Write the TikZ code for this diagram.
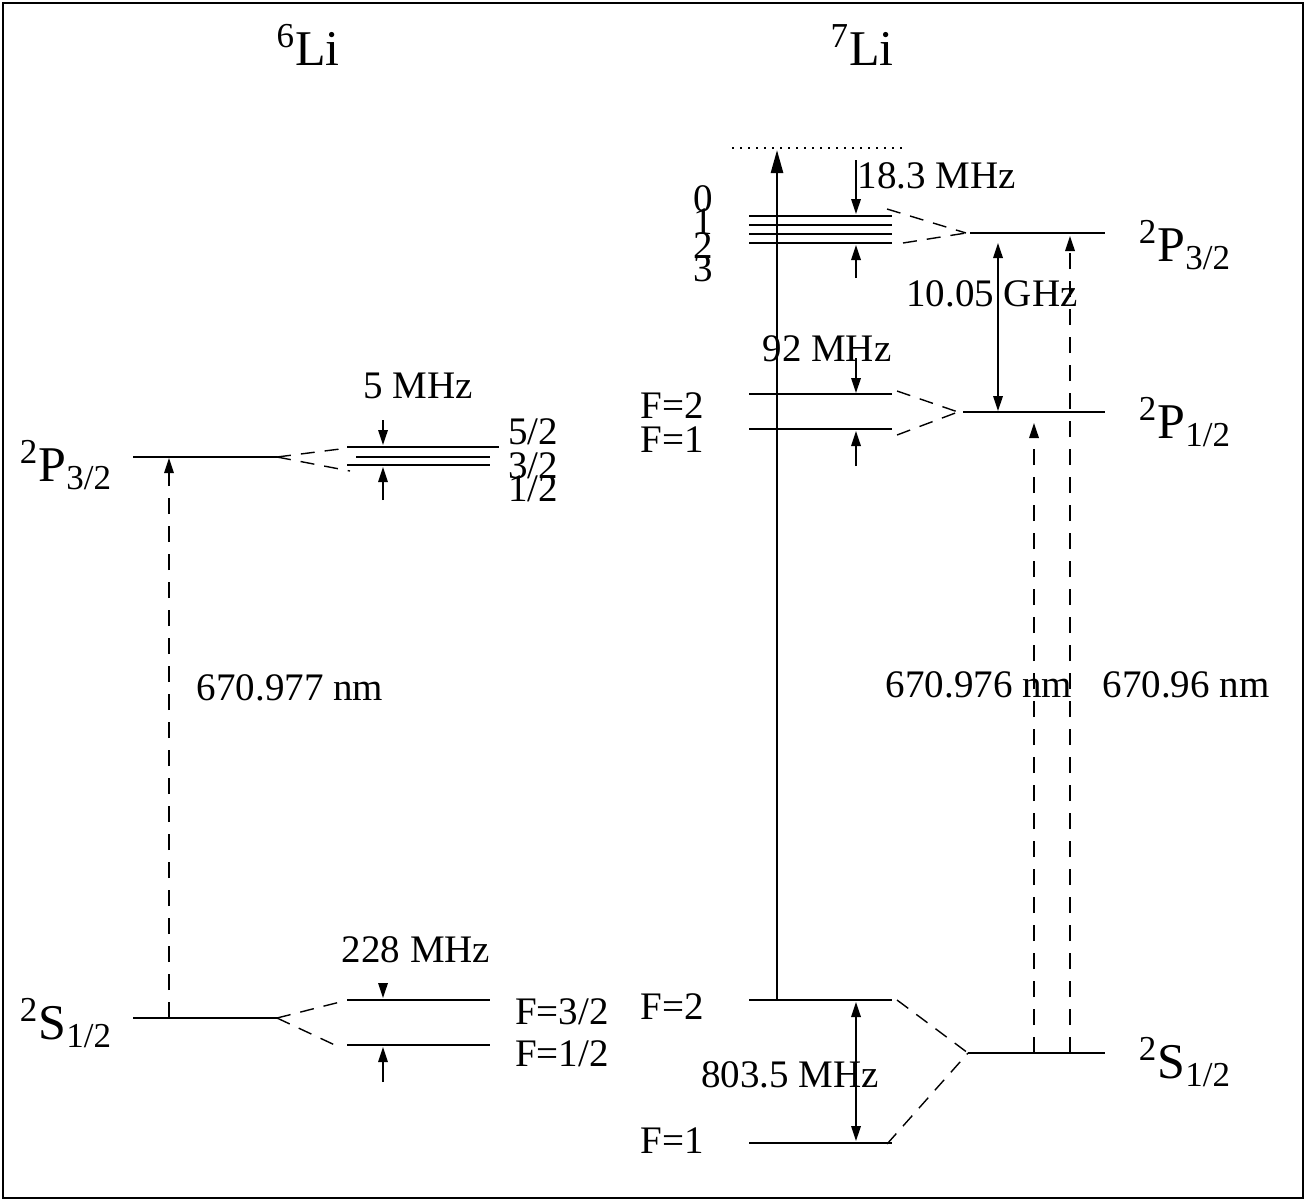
\documentclass[tikz,border=0pt]{standalone}
\usepackage{fontspec}
\setmainfont{Liberation Serif}
\usetikzlibrary{arrows.meta}

\begin{document}
\begin{tikzpicture}[
    x=0.5pt, y=-0.5pt,
    lvl/.style={line width=0.8pt},
    fan/.style={line width=0.7pt, dash pattern=on 7pt off 5pt},
    trans/.style={line width=0.7pt, dash pattern=on 8pt off 6pt, -{Triangle[length=7.5pt,width=4.8pt]}},
    gap/.style={line width=0.7pt, -{Triangle[length=7.5pt,width=4.8pt]}},
    both/.style={line width=0.7pt, {Triangle[length=7.5pt,width=4.8pt]}-{Triangle[length=7.5pt,width=4.8pt]}},
    lab/.style={inner sep=0pt, font=\fontsize{19.5}{22}\selectfont},
    big/.style={inner sep=0pt, font=\fontsize{25}{28}\selectfont}
]
    % frame
    \useasboundingbox (0,0) rectangle (1306,1201);
    \draw[line width=0.8pt] (3,3) rectangle (1303,1198);

    % titles
    \node[big] (title6) at (308,45) {\textsuperscript{6}Li};
    \node[big] (title7) at (862,45) {\textsuperscript{7}Li};

    % ---- 6Li fine structure
    \coordinate (p6l) at (133,457);  \coordinate (p6r) at (277,457);
    \coordinate (s6l) at (133,1018); \coordinate (s6r) at (277,1018);
    \draw[lvl] (p6l) -- (p6r);
    \draw[lvl] (s6l) -- (s6r);
    \node[big] (p6lab) at (66,465) {\textsuperscript{2}P\textsubscript{3/2}};
    \node[big] (s6lab) at (66,1023) {\textsuperscript{2}S\textsubscript{1/2}};
    \coordinate (d6s) at (169,1018); \coordinate (d6p) at (169,458);
    \draw[trans] (d6s) -- (d6p);
    \node[lab] (lam6) at (290,688) {670.977 nm};

    % 6Li P3/2 hyperfine
    \coordinate (h52l) at (347,447); \coordinate (h52r) at (499,447);
    \coordinate (h32l) at (356,457); \coordinate (h32r) at (490,457);
    \coordinate (h12l) at (347,465); \coordinate (h12r) at (490,465);
    \draw[lvl] (h52l) -- (h52r);
    \draw[lvl] (h32l) -- (h32r);
    \draw[lvl] (h12l) -- (h12r);
    \coordinate (f6a) at (340,449); \coordinate (f6b) at (350,471);
    \draw[fan] (p6r) -- (f6a);
    \draw[fan] (p6r) -- (f6b);
    \node[lab] (l52) at (533,432) {5/2};
    \node[lab] (l32) at (533,466) {3/2};
    \node[lab] (l12) at (533,489) {1/2};
    \node[lab] (mhz5) at (418,386) {5 MHz};
    \coordinate (a5t) at (383,420); \coordinate (a5u) at (383,445);
    \coordinate (a5b) at (383,500); \coordinate (a5d) at (383,467);
    \draw[gap] (a5t) -- (a5u);
    \draw[gap] (a5b) -- (a5d);

    % 6Li S1/2 hyperfine
    \coordinate (g32l) at (347,1000); \coordinate (g32r) at (490,1000);
    \coordinate (g12l) at (347,1045); \coordinate (g12r) at (490,1045);
    \draw[lvl] (g32l) -- (g32r);
    \draw[lvl] (g12l) -- (g12r);
    \coordinate (f6c) at (340,1002); \coordinate (f6d) at (337,1046);
    \draw[fan] (s6r) -- (f6c);
    \draw[fan] (s6r) -- (f6d);
    \node[lab] (lf32) at (562,1012) {F=3/2};
    \node[lab] (lf12) at (562,1054) {F=1/2};
    \node[lab] (mhz228) at (416,950) {228 MHz};
    \coordinate (a228t) at (383,983); \coordinate (a228u) at (383,998);
    \coordinate (a228b) at (383,1082); \coordinate (a228d) at (383,1047);
    \draw[gap] (a228t) -- (a228u);
    \draw[gap] (a228b) -- (a228d);

    % ---- 7Li
    \coordinate (dotl) at (732,148); \coordinate (dotr) at (907,148);
    \draw[line width=0.7pt, dash pattern=on 0.8pt off 3.2pt] (dotl) -- (dotr);
    \coordinate (ion0) at (777,1000); \coordinate (ion1) at (777,150);
    \draw[line width=1.3pt, -{Triangle[length=11.5pt,width=6pt]}] (ion0) -- (ion1);

    % P3/2 hyperfine (F=0..3)
    \foreach \yy in {216, 225, 234, 243} {
        \draw[lvl] (749,\yy) -- (892,\yy);
    }
    \node[lab] (lf0) at (703,199) {0};
    \node[lab] (lf1) at (703,222) {1};
    \node[lab] (lf2) at (703,246) {2};
    \node[lab] (lf3) at (703,269) {3};
    \node[lab] (mhz18) at (937,176) {18.3 MHz};
    \coordinate (a18t) at (856,160); \coordinate (a18u) at (856,214);
    \coordinate (a18b) at (856,278); \coordinate (a18d) at (856,245);
    \draw[gap] (a18t) -- (a18u);
    \draw[gap] (a18b) -- (a18d);
    \coordinate (j3) at (966,233);
    \coordinate (f7a) at (887,209); \coordinate (f7b) at (903,243);
    \draw[fan] (f7a) -- (j3);
    \draw[fan] (f7b) -- (j3);
    \coordinate (p3l) at (970,233); \coordinate (p3r) at (1105,233);
    \draw[lvl] (p3l) -- (p3r);
    \node[big] (p3lab) at (1185,245) {\textsuperscript{2}P\textsubscript{3/2}};

    % P1/2 hyperfine
    \coordinate (e2l) at (749,394); \coordinate (e2r) at (892,394);
    \coordinate (e1l) at (749,429); \coordinate (e1r) at (892,429);
    \draw[lvl] (e2l) -- (e2r);
    \draw[lvl] (e1l) -- (e1r);
    \node[lab] (le2) at (672,406) {F=2};
    \node[lab] (le1) at (672,440) {F=1};
    \node[lab] (mhz92) at (827,349) {92 MHz};
    \coordinate (a92t) at (856,358); \coordinate (a92u) at (856,393);
    \coordinate (a92b) at (856,466); \coordinate (a92d) at (856,431);
    \draw[gap] (a92t) -- (a92u);
    \draw[gap] (a92b) -- (a92d);
    \coordinate (j1) at (958,412);
    \coordinate (f7c) at (897,391); \coordinate (f7d) at (897,435);
    \draw[fan] (f7c) -- (j1);
    \draw[fan] (f7d) -- (j1);
    \coordinate (p1l) at (963,412); \coordinate (p1r) at (1105,412);
    \draw[lvl] (p1l) -- (p1r);
    \node[big] (p1lab) at (1185,422) {\textsuperscript{2}P\textsubscript{1/2}};

    % fine structure splitting
    \coordinate (fs3) at (998,243); \coordinate (fs1) at (998,411);
    \draw[both] (fs3) -- (fs1);
    \node[lab] (ghz) at (992,294) {10.05 GHz};

    % S1/2 hyperfine
    \coordinate (s2l) at (749,1000); \coordinate (s2r) at (892,1000);
    \coordinate (s1l) at (749,1143); \coordinate (s1r) at (892,1143);
    \draw[lvl] (s2l) -- (s2r);
    \draw[lvl] (s1l) -- (s1r);
    \node[lab] (ls2) at (672,1007) {F=2};
    \node[lab] (ls1) at (672,1141) {F=1};
    \coordinate (a803t) at (856,1002); \coordinate (a803b) at (856,1141);
    \draw[both] (a803t) -- (a803b);
    \node[lab] (mhz803) at (790,1075) {803.5 MHz};
    \coordinate (j0) at (968,1053);
    \coordinate (f7e) at (897,1000); \coordinate (f7f) at (887,1144);
    \draw[fan] (f7e) -- (j0);
    \draw[fan] (f7f) -- (j0);
    \coordinate (s7r) at (1105,1053);
    \draw[lvl] (j0) -- (s7r);
    \node[big] (s7lab) at (1185,1062) {\textsuperscript{2}S\textsubscript{1/2}};

    % D lines
    \coordinate (d1s) at (1034,1053); \coordinate (d1p) at (1034,423);
    \coordinate (d2s) at (1070,1053); \coordinate (d2p) at (1070,236);
    \draw[trans] (d1s) -- (d1p);
    \draw[trans] (d2s) -- (d2p);
    \node[lab] (lam7a) at (979,685) {670.976 nm};
    \node[lab] (lam7b) at (1186,685) {670.96 nm};
\end{tikzpicture}
\end{document}
